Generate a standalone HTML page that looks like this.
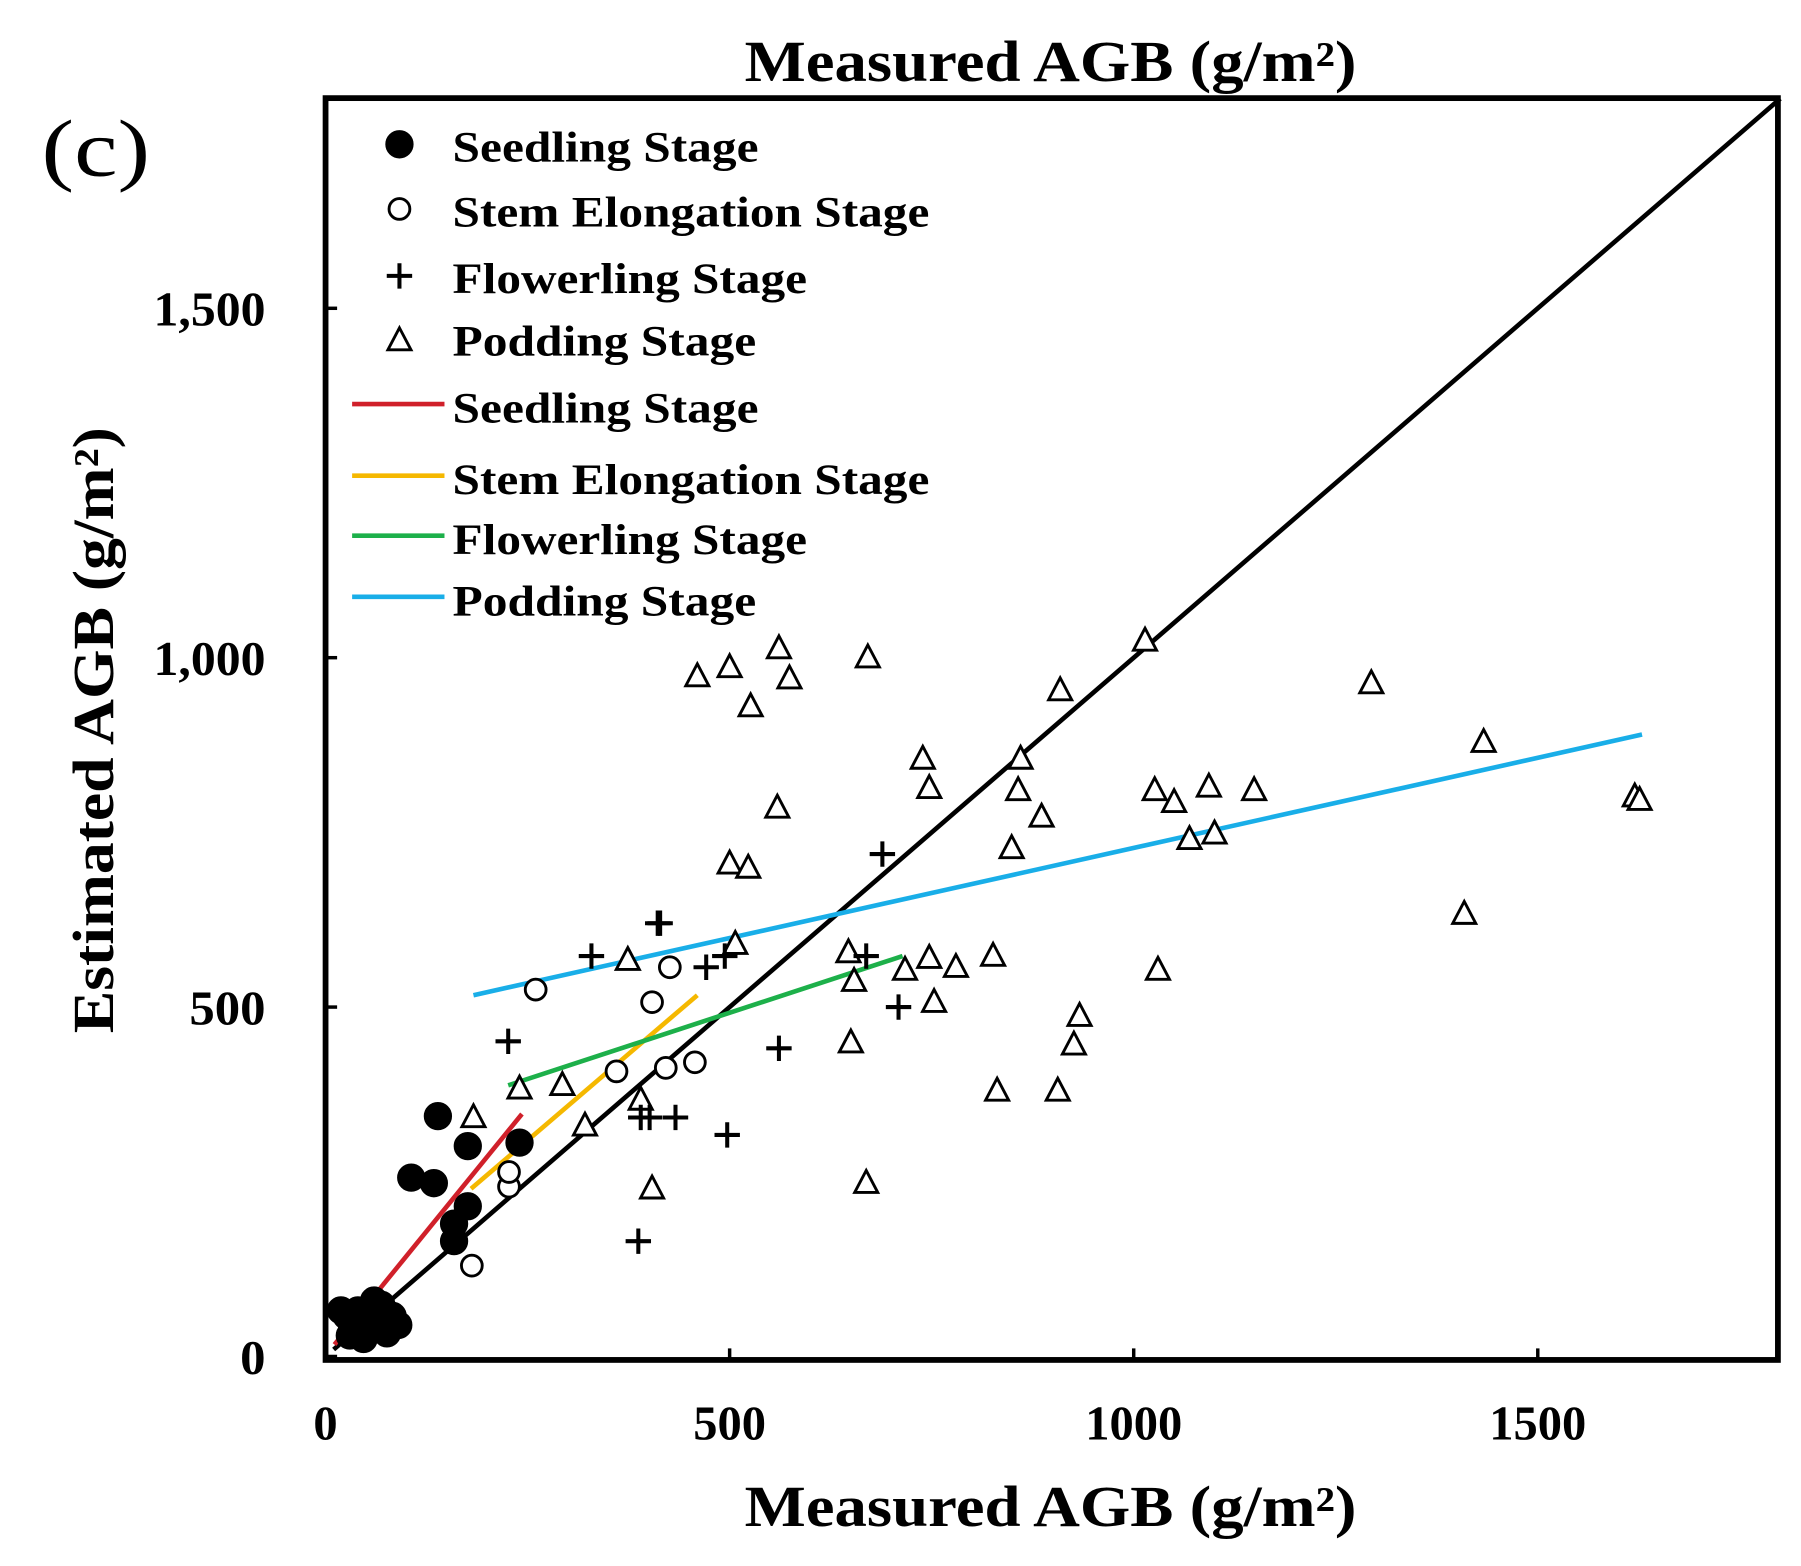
<!DOCTYPE html>
<html><head><meta charset="utf-8"><style>
html,body{margin:0;padding:0;background:#fff;}
svg{display:block;}
text{font-family:"Liberation Serif",serif;font-weight:bold;fill:#000;}
</style></head><body>
<svg id="chart" width="1801" height="1566" viewBox="0 0 1560 1356.5" preserveAspectRatio="none" xmlns="http://www.w3.org/2000/svg">
<text x="645" y="70" font-size="50" textLength="530" lengthAdjust="spacingAndGlyphs">Measured AGB (g/m²)</text>
<text x="36" y="152" font-size="70" textLength="94" lengthAdjust="spacingAndGlyphs" style="font-weight:normal">(c)</text>
<text x="645" y="1322" font-size="50" textLength="530" lengthAdjust="spacingAndGlyphs">Measured AGB (g/m²)</text>
<text transform="translate(98,895) rotate(-90)" font-size="50" textLength="525" lengthAdjust="spacingAndGlyphs">Estimated AGB (g/m²)</text>
<g id="ticks"></g>
<g id="lines"></g>
<g id="marks"></g>
<rect x="282" y="85" width="1258" height="1093" fill="none" stroke="#000" stroke-width="5"/>
<g id="legend"></g>
</svg>
<script>
const xTicks=[0,500,1000,1500];
const yTicks=[0,500,1000,1500];
const yTickLabels=["0","500","1,000","1,500"];
const seedlingX=[139,176,240,106,134,176,159,159,26,40,54,69,83,90,33,61,76,47,19,30,50,70,60];
const seedlingY=[344,301,306,256,248,215,190,165,58,66,61,74,58,45,41,41,33,25,66,30,50,40,80];
const stemX=[260,426,404,360,421,457,227,227,181];
const stemY=[525,557,507,408,413,421,243,264,130];
const flowerX=[689,411,414,329,494,471,669,709,226,561,390,433,401,497,387];
const flowerY=[719,620,620,573,573,557,573,500,451,441,342,342,342,317,165];
const podX=[561,500,460,574,526,671,1014,909,1294,1433,739,860,747,857,559,1026,1050,1093,1149,886,849,1069,1100,500,523,1620,1626,1409,507,374,647,747,826,780,717,654,1030,753,933,926,650,293,240,321,183,390,831,906,404,669];
const podY=[1013,986,973,970,930,1000,1024,953,963,879,855,855,813,810,785,810,793,815,810,772,727,740,748,705,699,801,796,633,590,567,578,570,573,557,553,537,553,507,487,446,449,388,383,330,342,367,380,380,240,248];
const fitNames=["seedling","stem-elongation","flowering","podding"];
const fitColors=["#d0202a","#f5b800","#1db04a","#19aee8"];
const fitX0=[11,180,226,183];
const fitY0=[17,240,388,517];
const fitX1=[243,460,714,1629];
const fitY1=[347,517,573,890];

const NS="http://www.w3.org/2000/svg";
const sx=v=>282+v*0.7;
const sy=v=>1175-v*0.6053;
function mk(tag,attrs,parent){const e=document.createElementNS(NS,tag);for(const k in attrs)e.setAttribute(k,attrs[k]);document.getElementById(parent).appendChild(e);return e;}

xTicks.forEach((t,i)=>{
  const l=mk('line',{x1:sx(t),x2:sx(t),y1:1178,y2:1168,stroke:'#000','stroke-width':3},'ticks');
  
  
  const s=String(t);
  const tx=mk('text',{x:sx(t),y:1247,'font-size':42,'text-anchor':'middle',textLength:s.length*21,lengthAdjust:'spacingAndGlyphs'},'ticks');
  tx.textContent=s;
  
  
});
yTicks.forEach((t,i)=>{
  const l=mk('line',{x1:282,x2:292,y1:sy(t),y2:sy(t),stroke:'#000','stroke-width':3},'ticks');
  
  
  const s=yTickLabels[i];
  const w=s.replace(',','').length*22+(s.includes(',')?9:0);
  const tx=mk('text',{x:230-w,y:sy(t)+15,'font-size':42,textLength:w,lengthAdjust:'spacingAndGlyphs'},'ticks');
  tx.textContent=s;
  
  
});
const one=mk('line',{x1:sx(10),y1:sy(10),x2:sx(1800),y2:sy(1800),stroke:'#000','stroke-width':4},'lines');



function circle(x,y,r,fill,name){const c=mk('circle',{cx:x,cy:y,r:r,fill:fill,stroke:'#000','stroke-width':2.5},'marks');return c;}
function plus(x,y,name){const p=mk('path',{d:`M${x-11},${y}H${x+11}M${x},${y-11}V${y+11}`,stroke:'#000','stroke-width':3.5,fill:'none'},'marks');return p;}
function tri(x,y,name){const p=mk('path',{d:`M${x},${y-11}L${x+10},${y+8}L${x-10},${y+8}Z`,stroke:'#000','stroke-width':2.5,fill:'#fff'},'marks');return p;}

podX.forEach((v,i)=>tri(sx(v),sy(podY[i]),'podding-point'));
flowerX.forEach((v,i)=>plus(sx(v),sy(flowerY[i]),'flowering-point'));
stemX.forEach((v,i)=>circle(sx(v),sy(stemY[i]),9,'#fff','stem-elongation-point'));
seedlingX.forEach((v,i)=>circle(sx(v),sy(seedlingY[i]),11,'#000','seedling-point'));

fitNames.forEach((n,i)=>{
  const l=mk('line',{x1:sx(fitX0[i]),y1:sy(fitY0[i]),x2:sx(fitX1[i]),y2:sy(fitY1[i]),stroke:fitColors[i],'stroke-width':4},'lines');
  
  
});

const legNames=["Seedling Stage","Stem Elongation Stage","Flowerling Stage","Podding Stage"];
const legWidths=[265,413,307,263];
const legRowsM=[128,184,242,296];
const legRowsL=[354,416,468,521];
legNames.forEach((n,i)=>{
  const y=legRowsM[i];
  let m;
  if(i===0)m=circle(346,y-3,11,'#000','legend-seedling-marker');
  else if(i===1)m=circle(346,y-3,9,'#fff','legend-stem-marker');
  else if(i===2)m=plus(346,y-3,'legend-flowering-marker');
  else m=tri(346,y-1,'legend-podding-marker');
  document.getElementById('legend').appendChild(m);
  const t=mk('text',{x:392,y:y+12,'font-size':38,textLength:legWidths[i],lengthAdjust:'spacingAndGlyphs'},'legend');
  t.textContent=n;
  
  
  const ly=legRowsL[i];
  const l=mk('line',{x1:305,x2:385,y1:ly-4,y2:ly-4,stroke:fitColors[i],'stroke-width':4},'legend');
  
  
  const t2=mk('text',{x:392,y:ly+12,'font-size':38,textLength:legWidths[i],lengthAdjust:'spacingAndGlyphs'},'legend');
  t2.textContent=n;
  
  
});
</script>
</body></html>
